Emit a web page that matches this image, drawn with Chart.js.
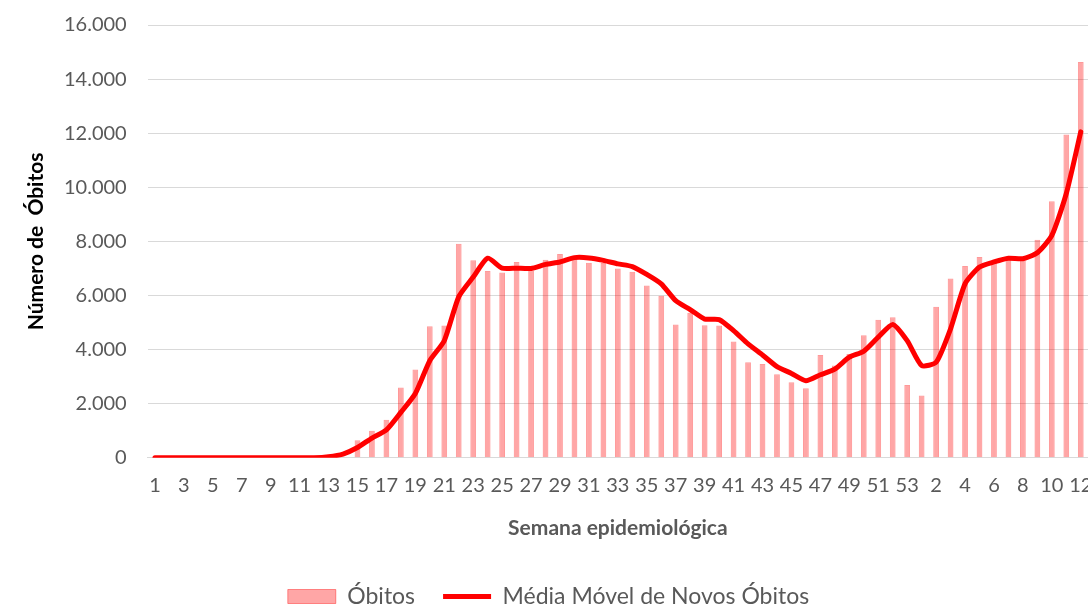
<!DOCTYPE html>
<html>
<head>
<meta charset="utf-8">
<script src="https://cdn.jsdelivr.net/npm/chart.js@4"></script>
<style>
  html, body { margin: 0; padding: 0; background: #fff; overflow: hidden; }
  #wrap { width: 1110px; height: 608px; }
</style>
</head>
<body>
<div id="wrap"><canvas id="chart"></canvas></div>
<script>
// semanas epidemiológicas (2020: 1-53, 2021: 1-12)
const semanas = ['1','2','3','4','5','6','7','8','9','10','11','12','13','14','15','16','17','18','19','20',
  '21','22','23','24','25','26','27','28','29','30','31','32','33','34','35','36','37','38','39','40',
  '41','42','43','44','45','46','47','48','49','50','51','52','53',
  '1','2','3','4','5','6','7','8','9','10','11','12']

// óbitos por semana
const obitos = [0,0,0,0,0,0,0,0,0,0,0,0,0,0,650,1000,1410,2600,3260,4860,
  4890,7910,7300,6910,6850,7240,6920,7320,7530,7400,7210,7200,7000,6880,6370,5990,4930,5360,4900,4890,
  4300,3530,3470,3090,2790,2570,3800,3410,3840,4530,5100,5200,2690,
  2300,5580,6630,7090,7420,7280,7360,7300,8060,9480,11950,14630]

// média móvel de novos óbitos
const mediaMovel = [0,0,0,0,0,0,0,0,0,0,0,0,40,140,380,730,1030,1680,2380,3590,
  4330,5950,6680,7380,7010,7010,7000,7150,7240,7400,7390,7300,7170,7070,6780,6430,5810,5480,5130,5110,
  4700,4210,3800,3370,3120,2850,3070,3280,3720,3940,4460,4930,4330,
  3410,3530,4770,6430,7050,7240,7380,7360,7580,8220,9770,12050]

const yTicks = [0,2000,4000,6000,8000,10000,12000,14000,16000]

const cinza = '#595959'
const fonte = 'Lato'

// formata número com ponto de milhar
function fmt(v) {
  return String(v).replace(/\B(?=(\d{3})+(?!\d))/g, '.')
}

const ctx = document.getElementById('chart')
new Chart(ctx, {
  data: {
    labels: semanas,
    datasets: [{
      type: 'line',
      label: 'Média Móvel de Novos Óbitos',
      data: mediaMovel,
      borderColor: '#ff0000',
      backgroundColor: '#ff0000',
      borderWidth: 5,
      pointRadius: 0,
      tension: 0.2,
      borderCapStyle: 'round',
      borderJoinStyle: 'round',
      pointStyle: 'line'
    }, {
      type: 'bar',
      label: 'Óbitos',
      data: obitos,
      backgroundColor: 'rgba(255,0,0,0.35)',
      borderColor: 'rgba(255,0,0,0.4)',
      borderWidth: 1,
      barPercentage: 0.4,
      categoryPercentage: 1,
      pointStyle: 'rect'
    }]
  },
  options: {
    responsive: true,
    maintainAspectRatio: false,
    animation: false,
    layout: { padding: { left: 9, right: 22, top: 4, bottom: -10 } },
    plugins: {
      tooltip: { enabled: false },
      legend: {
        position: 'bottom',
        labels: {
          usePointStyle: true,
          pointStyleWidth: 48,
          boxHeight: 14,
          padding: 28,
          color: cinza,
          font: { family: fonte, size: 23 },
          sort: (a, b) => b.datasetIndex - a.datasetIndex
        }
      }
    },
    scales: {
      x: {
        grid: { display: false },
        border: { display: true, color: '#d9d9d9' },
        ticks: {
          autoSkip: false,
          maxRotation: 0,
          padding: 8,
          color: cinza,
          font: { family: fonte, size: 20 },
          callback: function (value, index) {
            return index % 2 === 0 ? semanas[index] : ''
          }
        },
        title: {
          display: true,
          text: 'Semana epidemiológica',
          color: cinza,
          font: { family: fonte, size: 21, weight: 'bold' },
          padding: { top: 10, bottom: 16 }
        }
      },
      y: {
        min: 0,
        max: 16000,
        afterBuildTicks: axis => { axis.ticks = yTicks.map(v => ({ value: v })) },
        grid: { color: '#d9d9d9', lineWidth: 1, drawTicks: true, tickLength: 8, tickColor: 'rgba(0,0,0,0)' },
        border: { display: false },
        ticks: {
          padding: 13,
          color: cinza,
          font: { family: fonte, size: 20 },
          callback: v => fmt(v)
        },
        title: {
          display: true,
          text: 'Número de  Óbitos',
          color: '#000',
          font: { family: fonte, size: 21, weight: 'bold', lineHeight: 1 },
          padding: { top: 17, bottom: 4 }
        }
      }
    }
  }
})
</script>
</body>
</html>
